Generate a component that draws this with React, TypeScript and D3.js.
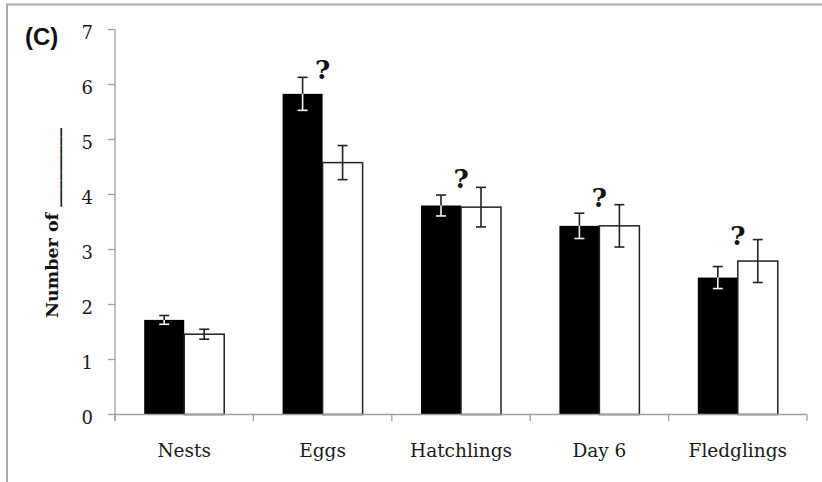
import React from "react";
import * as d3 from "d3";

const categories = ["Nests", "Eggs", "Hatchlings", "Day 6", "Fledglings"];
const blackValues = [1.72, 5.83, 3.8, 3.43, 2.49];
const blackErrors = [0.08, 0.3, 0.19, 0.23, 0.2];
const whiteValues = [1.46, 4.58, 3.77, 3.43, 2.79];
const whiteErrors = [0.09, 0.31, 0.36, 0.385, 0.39];
const markerTexts = ["", "?", "?", "?", "?"];
const markerValues = [0, 6.1, 4.12, 3.78, 3.08];
const yTicks = [0, 1, 2, 3, 4, 5, 6, 7];
const yTitle = "Number of _________";
const panelLabel = "(C)";

const W = 822;
const H = 482;
const axisColor = "#a0a0a0";
const textColor = "#1a1a1a";
const serif = "'DejaVu Serif', serif";

export default function App() {
  const x = d3.scaleBand<string>().domain(categories).range([115, 807]);
  const sub = d3
    .scaleBand<string>()
    .domain(["black", "white"])
    .range([0, x.bandwidth()])
    .paddingInner(0)
    .paddingOuter(0.73);
  const y = d3.scaleLinear().domain([0, 7]).range([414.5, 29.5]);
  const y0 = y(0);
  const capHalf = 5;

  const series = [
    { key: "black", values: blackValues, errors: blackErrors, fill: "#000", stroke: "none" },
    { key: "white", values: whiteValues, errors: whiteErrors, fill: "#fff", stroke: "#222" },
  ];

  return (
    <div style={{ position: "absolute", left: 0, top: 0 }}>
      <svg width={W} height={H} style={{ display: "block", background: "#fff" }}>
        {/* frame */}
        <path d={`M7,${H} L7,4.5 L${W},4.5`} fill="none" stroke="#aaaaaa" strokeWidth={2} />

        {/* panel label */}
        <text
          x={25}
          y={44.5}
          fontFamily="'Liberation Sans', Arial, sans-serif"
          fontWeight="bold"
          fontSize={24}
          fill="#111"
        >
          {panelLabel}
        </text>

        {/* y axis */}
        <line x1={115} x2={115} y1={y(7)} y2={y0 + 6.5} stroke={axisColor} strokeWidth={1.3} />
        {yTicks.map((t) => (
          <g key={t}>
            <line x1={108} x2={115} y1={y(t)} y2={y(t)} stroke={axisColor} strokeWidth={1.3} />
            <text
              x={93}
              y={y(t) + 9}
              textAnchor="end"
              fontFamily={serif}
              fontSize={18}
              fill={textColor}
            >
              {t}
            </text>
          </g>
        ))}

        {/* y title */}
        <text
          transform={`translate(58,318) rotate(-90)`}
          textAnchor="start"
          fontFamily={serif}
          fontWeight="bold"
          fontSize={17.5}
          fill="#111"
        >
          {yTitle}
        </text>

        {/* bars */}
        {series.map((s) =>
          categories.map((c, i) => {
            const bx = (x(c) as number) + (sub(s.key) as number);
            const bw = sub.bandwidth();
            const top = y(s.values[i]);
            return (
              <rect
                key={s.key + c}
                x={bx}
                y={top}
                width={bw}
                height={y0 - top}
                fill={s.fill}
                stroke={s.stroke}
                strokeWidth={s.stroke === "none" ? 0 : 1.5}
              />
            );
          })
        )}

        {/* error bars */}
        {series.map((s) =>
          categories.map((c, i) => {
            const cx = (x(c) as number) + (sub(s.key) as number) + sub.bandwidth() / 2;
            const v = s.values[i];
            const e = s.errors[i];
            const hi = y(v + e);
            const mid = y(v);
            const lo = y(v - e);
            const upperColor = "#222";
            const lowerColor = s.key === "black" ? "#f4f4f4" : "#222";
            return (
              <g key={"e" + s.key + c} strokeWidth={1.6}>
                <line x1={cx} x2={cx} y1={hi} y2={mid} stroke={upperColor} />
                <line x1={cx - capHalf} x2={cx + capHalf} y1={hi} y2={hi} stroke={upperColor} />
                <line x1={cx} x2={cx} y1={mid} y2={lo} stroke={lowerColor} />
                <line x1={cx - capHalf} x2={cx + capHalf} y1={lo} y2={lo} stroke={lowerColor} />
              </g>
            );
          })
        )}

        {/* x axis */}
        <line x1={115} x2={807} y1={y0} y2={y0} stroke={axisColor} strokeWidth={1.3} />
        {[...categories.map((c) => x(c) as number), 807].map((tx, i) => (
          <line key={"xt" + i} x1={tx} x2={tx} y1={y0} y2={y0 + 6.5} stroke={axisColor} strokeWidth={1.3} />
        ))}
        {categories.map((c) => (
          <text
            key={"xl" + c}
            x={(x(c) as number) + x.bandwidth() / 2}
            y={457}
            textAnchor="middle"
            fontFamily={serif}
            fontSize={18.5}
            fill={textColor}
          >
            {c}
          </text>
        ))}

        {/* significance markers */}
        {categories.map((c, i) =>
          markerTexts[i] ? (
            <text
              key={"m" + c}
              x={(x(c) as number) + x.bandwidth() / 2}
              y={y(markerValues[i])}
              textAnchor="middle"
              fontFamily={serif}
              fontWeight="bold"
              fontSize={26}
              fill="#111"
            >
              {markerTexts[i]}
            </text>
          ) : null
        )}
      </svg>
    </div>
  );
}
